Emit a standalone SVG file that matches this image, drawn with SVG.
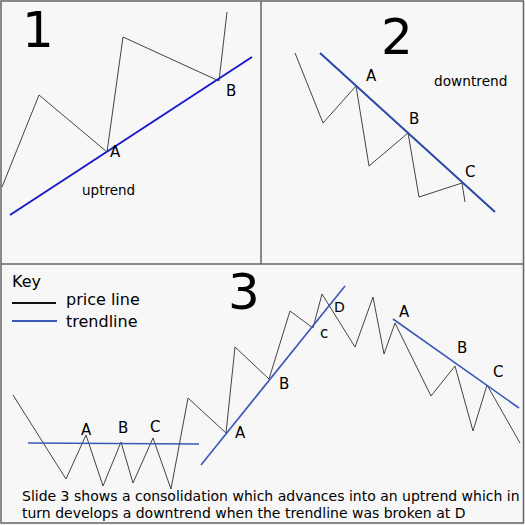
<svg xmlns="http://www.w3.org/2000/svg" width="525" height="525" viewBox="0 0 525 525">
<style>
text{font-family:"DejaVu Sans",Verdana,sans-serif;fill:#000}
.big{font-size:50px}
.lbl{font-size:15px}
.sm{font-size:14px}
.price{fill:none;stroke:#444;stroke-width:1;stroke-linejoin:miter}
.tr1{stroke:#1a1acc;stroke-width:2}
.tr2{stroke:#2a48a8;stroke-width:2}
.tr3{stroke:#3a58b8;stroke-width:1.6}
.frame{fill:none;stroke:#666;stroke-width:1.5}
</style>
<rect x="0" y="0" width="525" height="525" fill="#f7f7f7"/>
<rect class="frame" x="1" y="1" width="522.5" height="522"/>
<line class="frame" x1="261" y1="1" x2="261" y2="264"/>
<line class="frame" x1="1" y1="264" x2="524" y2="264"/>

<g id="panel1">
  <text class="big" x="22" y="47">1</text>
  <polyline class="price" points="2,187 39,95 107,152 123,37 219,81 227,12"/>
  <line class="tr1" x1="10" y1="215" x2="252" y2="57"/>
  <text class="lbl" x="110" y="157">A</text>
  <text class="lbl" x="226" y="96">B</text>
  <text style="font-size:13.5px" x="82" y="195">uptrend</text>
</g>

<g id="panel2">
  <text class="big" x="381" y="54">2</text>
  <polyline class="price" points="295,53 323,123 356,86 369,166 408,133 419,197 462,183 465,202"/>
  <line class="tr2" x1="320" y1="53" x2="495" y2="212"/>
  <text class="lbl" x="366" y="81">A</text>
  <text class="lbl" x="409" y="124">B</text>
  <text class="lbl" x="465" y="177">C</text>
  <text style="font-size:13.7px" x="434" y="86">downtrend</text>
</g>

<g id="panel3">
  <text class="big" x="228" y="309">3</text>
  <g id="key">
    <text style="font-size:16px" x="12" y="287">Key</text>
    <line x1="12" y1="303" x2="56" y2="303" stroke="#111" stroke-width="2"/>
    <text style="font-size:16px" x="66" y="305">price line</text>
    <line x1="12" y1="321" x2="57" y2="321" stroke="#3a58b8" stroke-width="2"/>
    <text style="font-size:16px" x="66" y="327">trendline</text>
  </g>
  <polyline class="price" points="13,395 66,479 86,435 103,486 121,442 133,483 153,438 171,489 188,398 226,433 235,347 269,379 290,311 313,328 322,294 355,347 373,297 384,354 395,323 431,396 455,366 473,431 487,385 520,443"/>
  <g id="trendlines3">
    <line class="tr3" x1="28" y1="443" x2="199" y2="444"/>
    <line class="tr3" x1="201" y1="465" x2="345" y2="286"/>
    <line class="tr3" x1="393" y1="319" x2="519" y2="408"/>
  </g>
  <text class="lbl" x="81" y="435">A</text>
  <text class="lbl" x="118" y="433">B</text>
  <text class="lbl" x="150" y="432">C</text>
  <text class="lbl" x="235" y="438">A</text>
  <text class="lbl" x="279" y="389">B</text>
  <text class="lbl" x="320" y="338">c</text>
  <text class="sm" x="334" y="312">D</text>
  <text class="lbl" x="399" y="317">A</text>
  <text class="lbl" x="457" y="353">B</text>
  <text class="lbl" x="493" y="377">C</text>
  <text class="sm" x="22" y="501">Slide 3 shows a consolidation which advances into an uptrend which in</text>
  <text class="sm" x="22" y="518">turn develops a downtrend when the trendline was broken at D</text>
</g>
</svg>
